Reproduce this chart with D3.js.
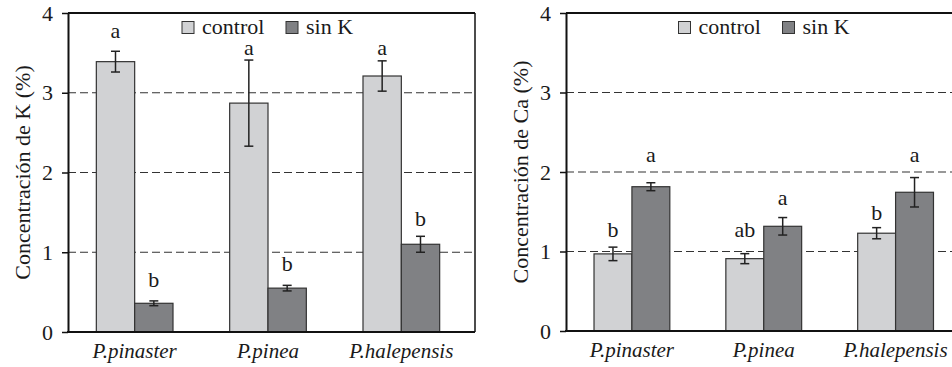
<!DOCTYPE html>
<html>
<head>
<meta charset="UTF-8">
<script src="https://cdn.jsdelivr.net/npm/d3@7"></script>
</head>
<body style="margin:0">
<script>
/* global d3 */

// categories and series
var categories = ["P.pinaster", "P.pinea", "P.halepensis"];
var seriesNames = ["control", "sin K"];
var yTicks = [0, 1, 2, 3, 4];

// potassium (K) panel
var kControl = [3.39, 2.87, 3.21];
var kControlErr = [0.13, 0.54, 0.19];
var kSinK = [0.36, 0.55, 1.10];
var kSinKErr = [0.03, 0.035, 0.10];
var kControlLetters = ["a", "a", "a"];
var kSinKLetters = ["b", "b", "b"];
var kControlLetterAt = [3.69, 3.47, 3.47];   // letter baseline, in data units
var kSinKLetterAt = [0.57, 0.77, 1.33];

// calcium (Ca) panel
var caControl = [0.97, 0.91, 1.23];
var caControlErr = [0.085, 0.063, 0.07];
var caSinK = [1.815, 1.317, 1.745];
var caSinKErr = [0.05, 0.11, 0.185];
var caControlLetters = ["b", "ab", "b"];
var caSinKLetters = ["a", "a", "a"];
var caControlLetterAt = [1.18, 1.18, 1.40];
var caSinKLetterAt = [2.12, 1.58, 2.12];

var w = 952, h = 367;
var fills = ["#d1d2d4", "#808184"];
var fontName = "'Liberation Serif', 'Times New Roman', Tinos, 'DejaVu Serif', serif";

var svg = d3.select("body").append("svg")
    .attr("width", w)
    .attr("height", h)
    .style("font-family", fontName);

svg.append("rect").attr("width", w).attr("height", h).attr("fill", "#fff");

// shared text styling
function txt(sel, size) {
    return sel.attr("fill", "#1a1a1a")
        .attr("font-size", size + "px")
        .style("font-family", fontName);
}

function drawPanel(p) {
    var g = svg.append("g");

    var y = d3.scaleLinear().domain([0, 4]).range([p.bottom, p.top]);
    var x0 = d3.scaleBand().domain(categories).range([p.left, p.right])
        .paddingInner(0.425).paddingOuter(0.2125);
    var x1 = d3.scaleBand().domain(seriesNames).range([0, x0.bandwidth()]);

    // dashed gridlines (behind bars)
    g.selectAll(".grid").data(yTicks.filter(function(d) { return d > 0 && d < 4; }))
        .enter().append("line")
        .attr("x1", p.left).attr("x2", p.frameRight)
        .attr("y1", function(d) { return y(d); })
        .attr("y2", function(d) { return y(d); })
        .attr("stroke", "#333").attr("stroke-width", 1.2)
        .attr("stroke-dasharray", "8,4");

    // one row per bar
    var rows = [];
    categories.forEach(function(c, i) {
        seriesNames.forEach(function(s, j) {
            rows.push({ cat: c, ser: s, j: j, v: p.values[j][i], e: p.errs[j][i],
                        lab: p.letters[j][i], at: p.letterAt[j][i] });
        });
    });

    g.selectAll(".bar").data(rows).enter().append("rect")
        .attr("x", function(d) { return x0(d.cat) + x1(d.ser); })
        .attr("y", function(d) { return y(d.v); })
        .attr("width", x1.bandwidth())
        .attr("height", function(d) { return y(0) - y(d.v); })
        .attr("fill", function(d) { return fills[d.j]; })
        .attr("stroke", "#333").attr("stroke-width", 1.2);

    // error bars
    var cx = function(d) { return x0(d.cat) + x1(d.ser) + x1.bandwidth() / 2; };
    var eb = g.selectAll(".err").data(rows).enter().append("g")
        .attr("stroke", "#222").attr("stroke-width", 1.5);
    eb.append("line")
        .attr("x1", cx).attr("x2", cx)
        .attr("y1", function(d) { return y(d.v + d.e); })
        .attr("y2", function(d) { return y(d.v - d.e); });
    [1, -1].forEach(function(sign) {
        eb.append("line")
            .attr("x1", function(d) { return cx(d) - 4.5; })
            .attr("x2", function(d) { return cx(d) + 4.5; })
            .attr("y1", function(d) { return y(d.v + sign * d.e); })
            .attr("y2", function(d) { return y(d.v + sign * d.e); });
    });

    // significance letters
    txt(g.selectAll(".letter").data(rows).enter().append("text"), 22)
        .attr("x", cx)
        .attr("y", function(d) { return y(d.at); })
        .attr("text-anchor", "middle")
        .text(function(d) { return d.lab; });

    // frame: top and right
    g.append("line").attr("x1", p.left).attr("x2", p.frameRight)
        .attr("y1", p.top).attr("y2", p.top)
        .attr("stroke", "#111").attr("stroke-width", 2);
    g.append("line").attr("x1", p.frameRight).attr("x2", p.frameRight)
        .attr("y1", p.top).attr("y2", p.bottom)
        .attr("stroke", "#111").attr("stroke-width", 1.5);

    // y axis
    var ya = g.append("g").attr("transform", "translate(" + p.left + ",0)")
        .call(d3.axisLeft(y).tickValues(yTicks).tickFormat(d3.format("d"))
            .tickSizeInner(6).tickSizeOuter(0).tickPadding(9));
    ya.attr("font-family", null);
    ya.select(".domain").attr("stroke", "#111").attr("stroke-width", 2);
    ya.selectAll(".tick line").attr("stroke", "#111").attr("stroke-width", 1.5);
    txt(ya.selectAll(".tick text"), 22);

    // x axis (category labels)
    var xa = g.append("g").attr("transform", "translate(0," + p.bottom + ")")
        .call(d3.axisBottom(x0).tickSize(0).tickPadding(11));
    xa.attr("font-family", null);
    xa.select(".domain").remove();
    txt(xa.selectAll(".tick text"), 21).style("font-style", "italic");
    g.append("line").attr("x1", p.left - 1).attr("x2", p.frameRight)
        .attr("y1", p.bottom).attr("y2", p.bottom)
        .attr("stroke", "#111").attr("stroke-width", 2);

    // y title
    txt(g.append("text"), 22)
        .attr("transform", "translate(" + p.titleX + "," + ((p.top + p.bottom) / 2) + ") rotate(-90)")
        .attr("text-anchor", "middle")
        .attr("dy", "0.35em")
        .text(p.title);

    // legend
    var lg = g.selectAll(".leg").data(seriesNames).enter().append("g")
        .attr("transform", function(d, i) { return "translate(" + (p.legendX + i * 104) + ",21.5)"; });
    lg.append("rect").attr("width", 12).attr("height", 12)
        .attr("fill", function(d, i) { return fills[i]; })
        .attr("stroke", "#333").attr("stroke-width", 1);
    txt(lg.append("text"), 22)
        .attr("x", 20).attr("y", 12)
        .text(function(d) { return d; });
}

drawPanel({
    left: 68, right: 468, frameRight: 475, top: 13, bottom: 332,
    title: "Concentración de K (%)", titleX: 22, legendX: 182,
    values: [kControl, kSinK], errs: [kControlErr, kSinKErr],
    letters: [kControlLetters, kSinKLetters], letterAt: [kControlLetterAt, kSinKLetterAt]
});

drawPanel({
    left: 566, right: 961.5, frameRight: 975, top: 13, bottom: 331,
    title: "Concentración de Ca (%)", titleX: 520, legendX: 678.5,
    values: [caControl, caSinK], errs: [caControlErr, caSinKErr],
    letters: [caControlLetters, caSinKLetters], letterAt: [caControlLetterAt, caSinKLetterAt]
});
</script>
</body>
</html>
